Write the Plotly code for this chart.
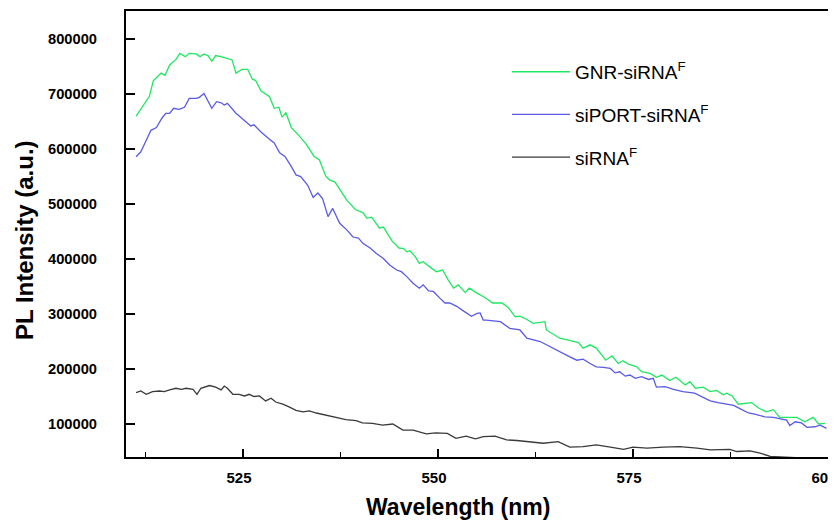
import plotly.graph_objects as go

# ---- data ----
gnr_wl = [511.3, 512.1, 513.0, 513.5, 514.5, 515.0, 515.6, 516.4, 516.9, 517.6, 518.1, 519.0, 519.5, 520.0,
          520.5, 521.0, 521.5, 522.4, 523.6, 524.1, 524.9, 525.6, 526.2, 526.6, 527.3, 528.4, 529.0, 529.6,
          530.0, 530.5, 531.2, 532.2, 533.1, 534.1, 534.8, 535.6, 536.1, 536.8, 537.4, 538.3, 539.4, 540.4,
          540.9, 541.5, 542.5, 543.0, 544.1, 545.0, 545.6, 546.0, 546.4, 547.1, 547.6, 548.1, 549.2, 549.8,
          550.6, 551.3, 552.0, 552.6, 553.5, 554.0, 555.0, 556.0, 557.0, 558.2, 559.0, 559.9, 560.5, 561.4,
          562.2, 563.7, 563.9, 565.6, 566.9, 568.0, 568.6, 569.5, 570.3, 571.5, 572.3, 573.1, 573.7, 574.4,
          575.5, 576.1, 577.2, 578.0, 578.7, 579.7, 580.5, 581.7, 582.3, 583.0, 584.0, 584.9, 585.7, 586.6,
          587.0, 587.7, 588.5, 589.4, 590.2, 591.1, 592.1, 593.0, 593.8, 594.9, 596.0, 597.0, 598.1, 598.8,
          599.6]
gnr_pl = [660000, 676000, 696000, 724000, 738000, 734000, 753000, 763000, 774000, 768000, 774000, 773000,
          768000, 773000, 770000, 760000, 770000, 767000, 762000, 738000, 745000, 745000, 727000, 725000,
          706000, 695000, 674000, 676000, 658000, 666000, 639000, 624000, 609000, 587000, 580000, 551000,
          544000, 540000, 527000, 507000, 490000, 484000, 474000, 476000, 456000, 458000, 433000, 420000,
          419000, 413000, 415000, 404000, 392000, 395000, 383000, 377000, 380000, 362000, 347000, 353000,
          339000, 347000, 338000, 330000, 320000, 320000, 312000, 295000, 296000, 290000, 283000, 286000,
          271000, 256000, 252000, 248000, 238000, 244000, 238000, 216000, 224000, 210000, 215000, 209000,
          204000, 195000, 192000, 185000, 189000, 179000, 185000, 171000, 177000, 165000, 167000, 159000,
          161000, 153000, 156000, 151000, 136000, 138000, 139000, 129000, 122000, 126000, 112000, 112000,
          112000, 104000, 112000, 100000, 101000]

siport_wl = [511.3, 511.9, 512.6, 513.2, 513.9, 514.6, 515.1, 515.6, 516.1, 516.8, 517.5, 518.1, 519.0,
             519.4, 520.0, 520.5, 521.0, 521.6, 522.2, 522.6, 523.0, 524.1, 525.2, 526.0, 526.4, 527.3,
             528.4, 529.0, 529.7, 530.4, 531.2, 531.8, 532.4, 533.3, 534.0, 534.6, 535.2, 535.9, 536.5,
             537.1, 537.4, 538.3, 539.1, 539.8, 540.4, 541.3, 542.1, 543.0, 543.8, 544.7, 545.3, 546.0,
             546.8, 547.6, 548.1, 548.8, 549.4, 550.3, 550.9, 551.5, 552.4, 553.0, 553.7, 554.3, 555.0,
             555.4, 555.8, 556.2, 558.0, 559.2, 560.5, 561.4, 563.1, 564.4, 566.9, 567.8, 568.6, 569.5,
             570.3, 571.2, 572.1, 572.7, 573.3, 574.0, 574.6, 575.3, 576.1, 577.0, 577.6, 578.0, 579.1,
             580.2, 581.4, 582.9, 584.0, 584.9, 585.9, 587.0, 587.9, 588.7, 589.8, 590.6, 591.9, 593.0,
             594.1, 594.7, 595.1, 595.8, 596.6, 597.3, 598.3, 599.0, 599.8]
siport_pl = [586000, 595000, 616000, 634000, 639000, 656000, 665000, 665000, 674000, 672000, 676000,
             692000, 692000, 694000, 701000, 688000, 674000, 686000, 684000, 680000, 683000, 665000,
             651000, 642000, 644000, 631000, 618000, 611000, 593000, 586000, 568000, 553000, 550000,
             534000, 512000, 520000, 510000, 477000, 492000, 474000, 465000, 453000, 440000, 438000,
             428000, 420000, 410000, 401000, 389000, 380000, 377000, 368000, 356000, 347000, 353000,
             342000, 341000, 328000, 320000, 320000, 314000, 308000, 302000, 296000, 301000, 302000,
             289000, 289000, 286000, 274000, 271000, 256000, 250000, 240000, 222000, 216000, 218000,
             210000, 204000, 203000, 201000, 193000, 195000, 187000, 189000, 183000, 186000, 181000,
             183000, 167000, 168000, 163000, 159000, 156000, 148000, 142000, 139000, 136000, 134000,
             128000, 120000, 118000, 113000, 112000, 108000, 107000, 97000, 104000, 102000, 94000,
             95000, 98000, 92000]

sirna_wl = [511.3, 511.9, 512.6, 513.4, 514.3, 514.9, 515.6, 516.4, 517.1, 517.7, 518.6, 519.1, 519.6,
            520.7, 521.5, 522.2, 522.6, 523.0, 523.7, 524.5, 525.2, 525.8, 526.4, 527.1, 527.9, 528.6,
            529.2, 530.1, 530.9, 531.8, 532.7, 533.5, 534.4, 535.6, 536.9, 538.2, 539.5, 540.3, 541.6,
            542.9, 544.2, 545.5, 546.8, 548.5, 549.7, 551.2, 552.3, 553.6, 554.8, 555.8, 557.3, 558.8,
            560.1, 561.8, 563.5, 565.4, 566.9, 568.6, 570.3, 572.1, 573.8, 575.0, 576.8, 578.9, 581.0,
            583.2, 584.9, 587.4, 588.3, 590.0, 591.3, 592.6, 594.7, 596.7, 598.5, 600.0]
sirna_pl = [157000, 160000, 154000, 159000, 160000, 159000, 162000, 165000, 163000, 165000, 163000,
            154000, 165000, 170000, 167000, 162000, 169000, 165000, 154000, 154000, 151000, 154000,
            150000, 151000, 142000, 147000, 140000, 136000, 131000, 125000, 122000, 124000, 120000,
            116000, 113000, 108000, 106000, 102000, 101000, 98000, 100000, 89000, 89000, 82000, 84000,
            83000, 74000, 78000, 73000, 77000, 78000, 71000, 70000, 68000, 65000, 68000, 58000, 59000,
            62000, 58000, 54000, 58000, 56000, 58000, 59000, 56000, 53000, 54000, 50000, 51000, 47000,
            41000, 39500, 38500, 37000, 36000]

series_names = ["GNR-siRNA<sup>F</sup>", "siPORT-siRNA<sup>F</sup>", "siRNA<sup>F</sup>"]
series_colors = ["#1ee860", "#5a5ae8", "#3a3a3a"]

x_ticks = [525, 550, 575, 600]
y_ticks = [100000, 200000, 300000, 400000, 500000, 600000, 700000, 800000]
x_title = "Wavelength (nm)"
y_title = "PL Intensity (a.u.)"

FONT = "Arial, 'Liberation Sans', sans-serif"

fig = go.Figure()
for i, (xs, ys) in enumerate([(gnr_wl, gnr_pl), (siport_wl, siport_pl), (sirna_wl, sirna_pl)]):
    fig.add_trace(go.Scatter(
        x=xs, y=ys, mode="lines", name=series_names[i],
        line=dict(color=series_colors[i], width=1.3),
        legendgroup=str(i),
    ))

fig.update_layout(
    width=828, height=515,
    margin=dict(l=118, r=8, t=3, b=66, autoexpand=False),
    paper_bgcolor="white", plot_bgcolor="white",
    font=dict(family=FONT, color="black"),
    showlegend=True,
    legend=dict(
        x=0.5428, y=0.906, xanchor="left", yanchor="top",
        bgcolor="rgba(0,0,0,0)", borderwidth=0,
        font=dict(size=19, family=FONT, color="black"),
        itemwidth=58, tracegroupgap=15,
    ),
    annotations=[
        dict(text=x_title, xref="paper", yref="paper", x=0.4725, y=-0.112,
             xanchor="center", yanchor="middle", showarrow=False,
             font=dict(size=23, weight="bold", family=FONT, color="black")),
        dict(text=y_title, xref="paper", yref="paper", x=-0.1453, y=0.4865,
             xanchor="center", yanchor="middle", showarrow=False, textangle=-90,
             font=dict(size=24, weight="bold", family=FONT, color="black")),
    ],
)

fig.update_xaxes(
    range=[510, 600], automargin=False,
    tickvals=x_ticks, ticktext=[str(v) for v in x_ticks],
    ticks="inside", ticklen=8, tickwidth=1.5, tickcolor="black",
    minor=dict(dtick=12.5, tick0=500, ticks="inside", ticklen=5, tickwidth=1.2, tickcolor="black"),
    showline=True, linewidth=2, linecolor="black", mirror=True,
    showgrid=False, zeroline=False,
    tickfont=dict(size=15, weight="bold", family=FONT, color="black"),
    ticklabelstandoff=6, ticklabelshift=-4, ticklabeloverflow="allow",
)
fig.update_yaxes(
    range=[40000, 851000], automargin=False,
    tickvals=y_ticks, ticktext=[str(v) for v in y_ticks],
    ticks="inside", ticklen=9, tickwidth=1.5, tickcolor="black",
    showline=True, linewidth=2, linecolor="black", mirror=True,
    showgrid=False, zeroline=False,
    tickfont=dict(size=14.7, weight="bold", family=FONT, color="black"),
    ticklabelstandoff=24,
)

fig.write_html("out.html")
